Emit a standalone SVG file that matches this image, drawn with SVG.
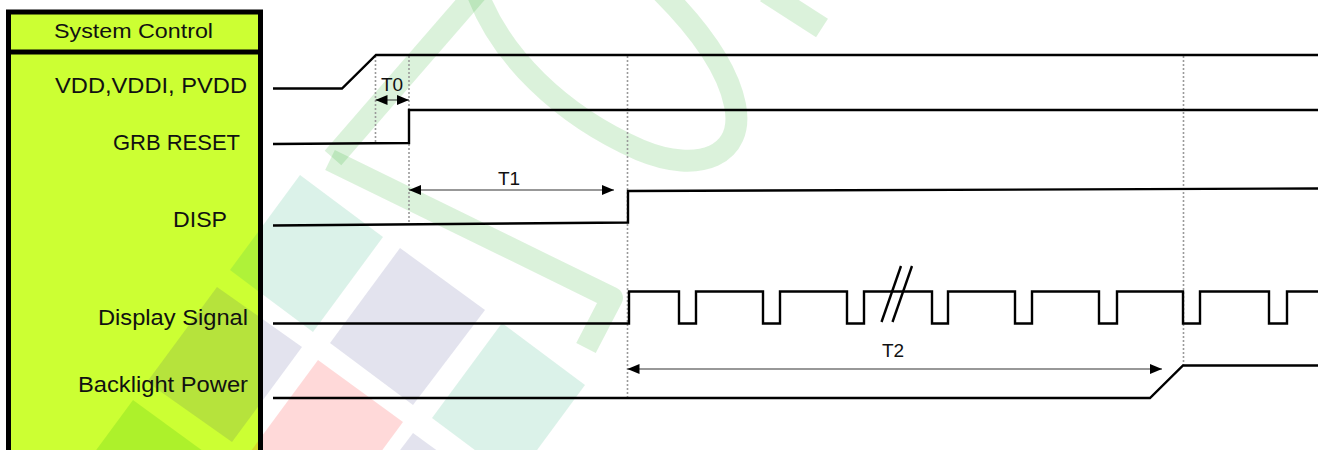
<svg xmlns="http://www.w3.org/2000/svg" width="1322" height="450" viewBox="0 0 1322 450">
<style>
.lbl{font-family:"Liberation Sans",Arial,sans-serif;font-size:22px;fill:#111}
.hdr{font-family:"Liberation Sans",Arial,sans-serif;font-size:20.5px;fill:#111}
.tl{font-family:"Liberation Sans",Arial,sans-serif;font-size:19px;fill:#111}
.sig{fill:none;stroke:#000;stroke-width:2.4;stroke-linejoin:miter}
.dot{fill:none;stroke:#9a9a9a;stroke-width:1.6;stroke-dasharray:2 2}
.dim{fill:none;stroke:#333;stroke-width:1.2;marker-start:url(#ah);marker-end:url(#ah)}
.wb{fill:none;stroke:#00a000;stroke-opacity:0.14;stroke-width:22;stroke-linejoin:round}
.mint{fill:#00a060;fill-opacity:0.14}
.blue{fill:#282878;fill-opacity:0.13}
.pink{fill:#ff0000;fill-opacity:0.15}
.grn{fill:#00a000;fill-opacity:0.15}
</style>
<defs>
<marker id="ah" viewBox="0 0 12 10" refX="12" refY="5" markerWidth="12" markerHeight="10" orient="auto-start-reverse" markerUnits="userSpaceOnUse">
<path d="M0,0 L12,5 L0,10 z" fill="#000"/>
</marker>
</defs>
<rect x="0" y="0" width="1322" height="450" fill="#fff"/>
<g id="panel-fill">
<rect x="8.5" y="12" width="252" height="460" fill="#CCFF33"/>
</g>
<g id="watermark">
<path class="wb" d="M333 158 L477 -8"/>
<path class="wb" stroke-width="20" d="M330 160 L612 298 L586 348"/>
<path class="wb" d="M477 -8 C500 55 560 115 640 150 C700 175 745 155 735 105 C728 70 700 30 662 -8"/>
<path class="wb" stroke-width="20" d="M766 -8 L822 28"/>
<polygon class="mint" points="300,175 383,237 313,332 230,270"/>
<polygon class="blue" points="400,248 485,310 413,405 330,343"/>
<polygon class="blue" points="217,287 302,347 232,442 147,382"/>
<polygon class="pink" points="318,360 403,422 333,517 248,455"/>
<polygon class="mint" points="502,323 585,385 515,480 432,418"/>
<polygon class="blue" points="413,433 498,495 426,590 341,528"/>
<polygon class="grn" points="133,400 218,462 148,557 63,495"/>
</g>
<g id="system-control">
<rect x="8.5" y="12" width="252" height="460" fill="none" stroke="#000" stroke-width="5"/>
<line x1="8.5" y1="52" x2="260.5" y2="52" stroke="#000" stroke-width="5"/>
<text class="hdr" x="54" y="38" textLength="159" lengthAdjust="spacingAndGlyphs">System Control</text>
<text class="lbl" x="55" y="93" textLength="192" lengthAdjust="spacingAndGlyphs">VDD,VDDI, PVDD</text>
<text class="lbl" x="113" y="150" textLength="127" lengthAdjust="spacingAndGlyphs">GRB RESET</text>
<text class="lbl" x="173" y="227" textLength="54" lengthAdjust="spacingAndGlyphs">DISP</text>
<text class="lbl" x="98" y="325" textLength="150" lengthAdjust="spacingAndGlyphs">Display Signal</text>
<text class="lbl" x="78" y="392" textLength="170" lengthAdjust="spacingAndGlyphs">Backlight Power</text>
</g>
<g id="guides">
<line class="dot" x1="375.5" y1="56" x2="375.5" y2="144"/>
<line class="dot" x1="409" y1="56" x2="409" y2="223"/>
<line class="dot" x1="627.5" y1="56" x2="627.5" y2="398"/>
<line class="dot" x1="1183.5" y1="56" x2="1183.5" y2="365"/>
</g>
<g id="signal-vdd"><path class="sig" d="M273 88.5 H342 L376 55 H1318"/></g>
<g id="signal-grb-reset"><path class="sig" d="M273 144 L409 143 V110 H1318"/></g>
<g id="signal-disp"><path class="sig" d="M273 225.5 L628 222.5 V191 L1318 188.5"/></g>
<g id="signal-display">
<path class="sig" d="M273 323.5 H629 V291.5 H679 V323.5 H696 V291.5 H763 V323.5 H780 V291.5 H847 V323.5 H864 V291.5 H932 V323.5 H948 V291.5 H1015 V323.5 H1032 V291.5 H1099 V323.5 H1117 V291.5 H1183 V323.5 H1200 V291.5 H1269 V323.5 H1287 V291.5 H1318"/>
<line x1="881.5" y1="322" x2="901" y2="266" stroke="#000" stroke-width="2.4"/>
<line x1="892.5" y1="322" x2="912" y2="266" stroke="#000" stroke-width="2.4"/>
</g>
<g id="signal-backlight"><path class="sig" d="M273 398 H1150 L1183 365.5 H1318"/></g>
<g id="connectors">
<line class="dim" x1="375.5" y1="100" x2="409" y2="100"/>
<line class="dim" x1="409" y1="190" x2="614" y2="190"/>
<line class="dim" x1="627.5" y1="369" x2="1162" y2="369"/>
<text class="tl" x="392" y="91" font-size="18" text-anchor="middle">T0</text>
<text class="tl" x="509" y="185" text-anchor="middle">T1</text>
<text class="tl" x="893" y="357" font-size="20" text-anchor="middle">T2</text>
</g>
</svg>
